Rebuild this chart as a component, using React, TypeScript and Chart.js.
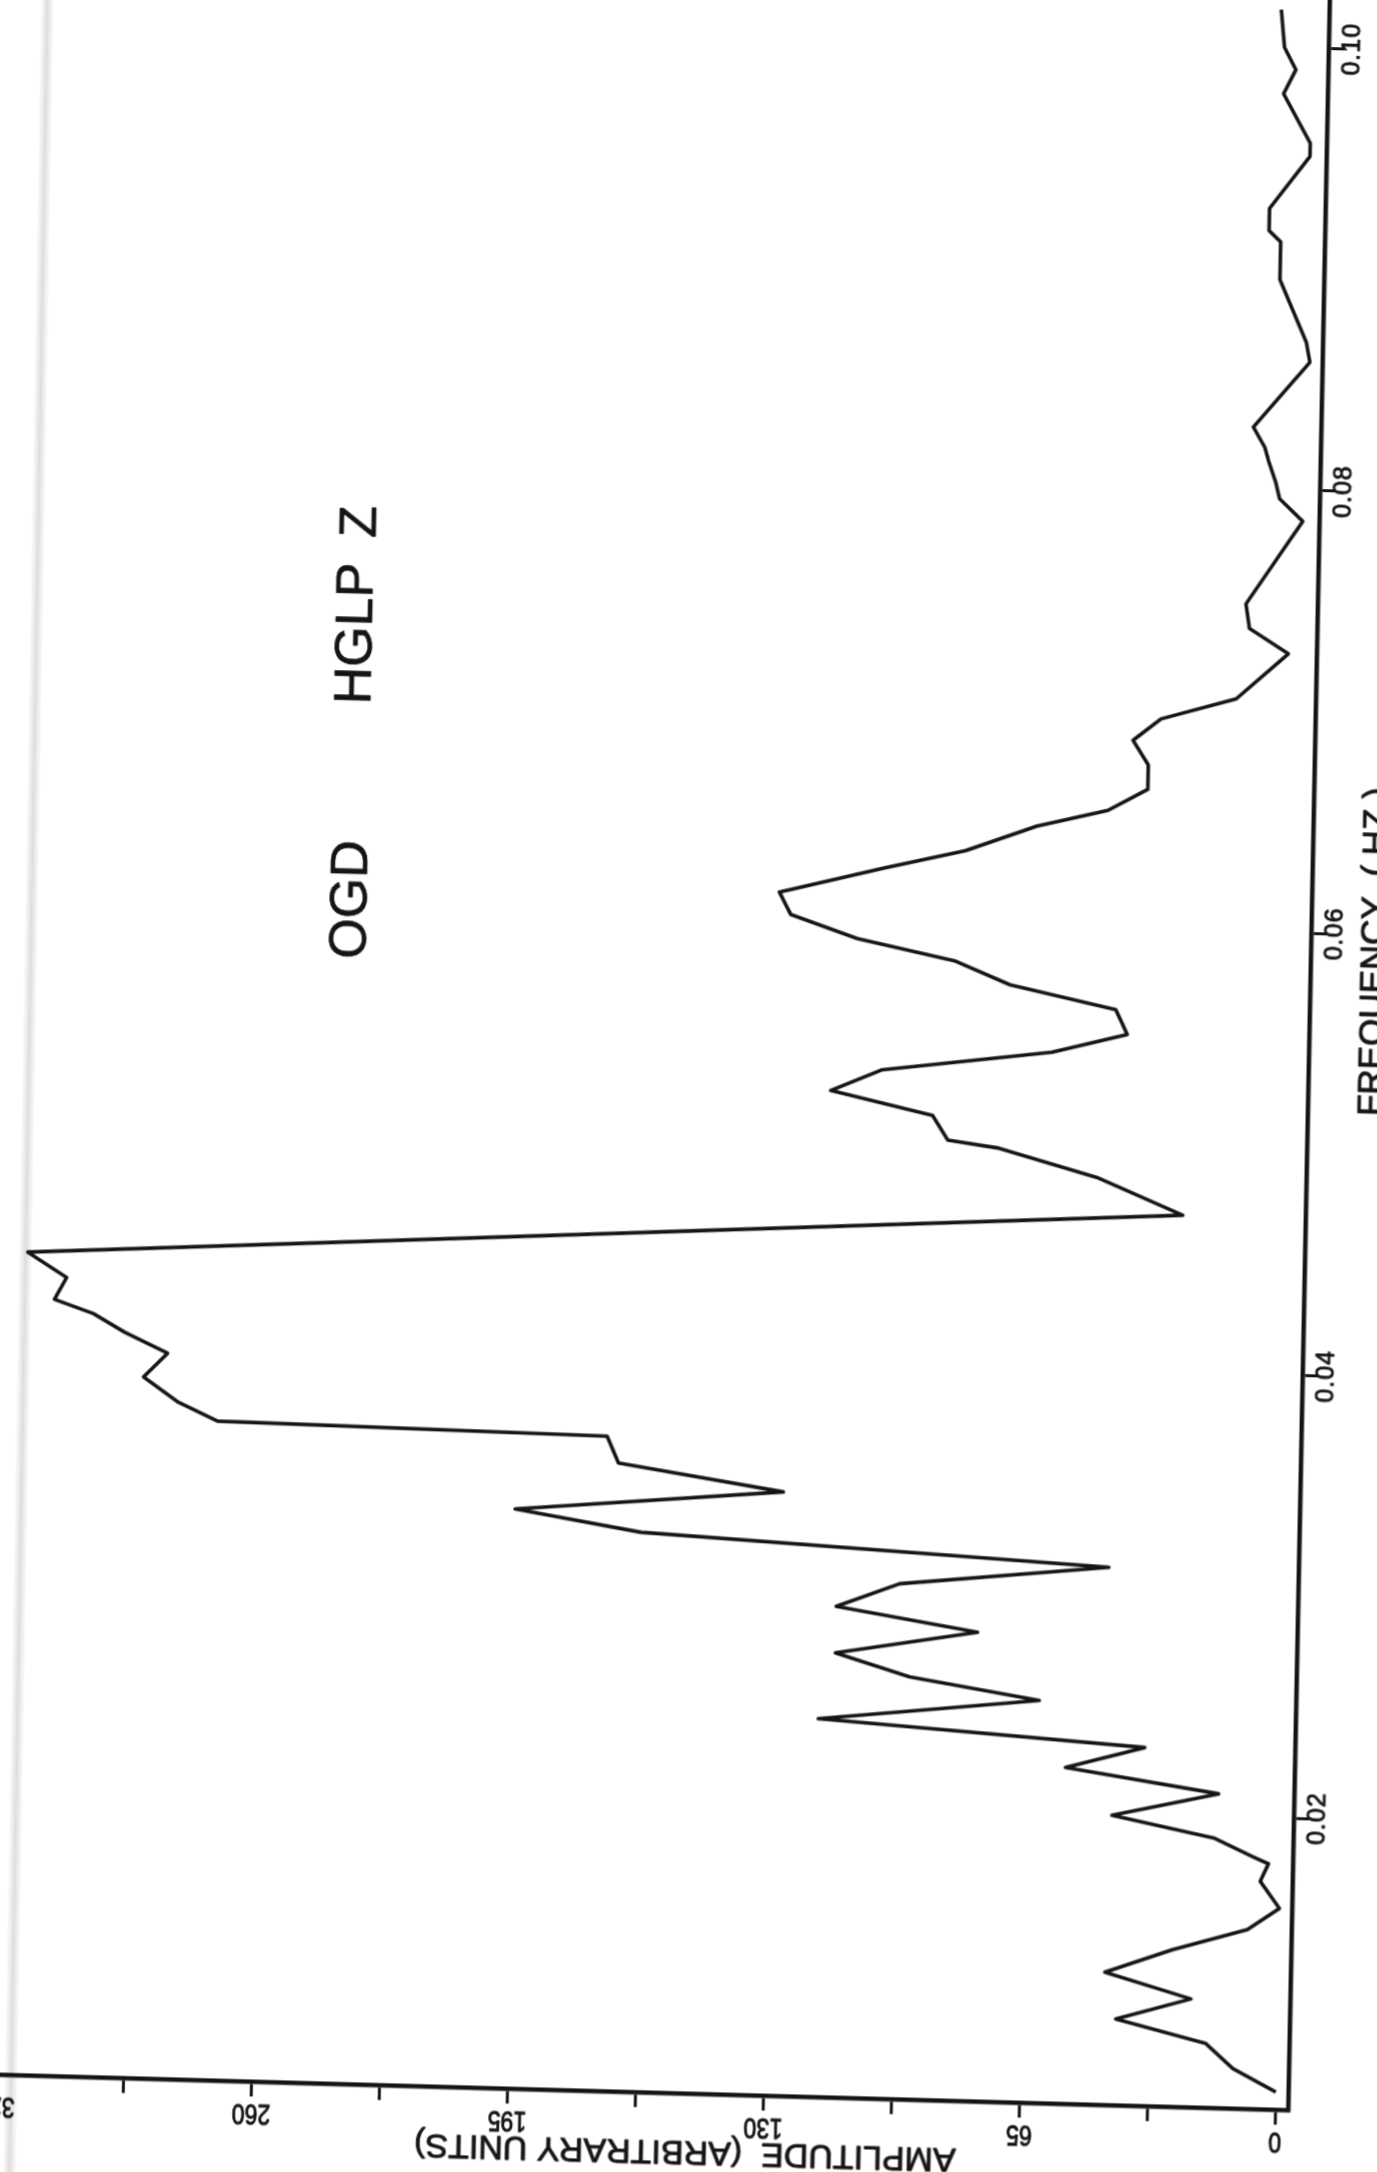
import { useEffect, useRef } from "react";
import { Chart, registerables } from "chart.js";

Chart.register(...registerables);

// Frequency (Hz) of each vertex of the spectrum trace, low to high
const FREQ = [
  0.0076, 0.0086, 0.0097, 0.0107, 0.0117, 0.0128, 0.0139, 0.0149, 0.0159, 0.0171,
  0.0179, 0.0182, 0.019, 0.0199, 0.021, 0.022, 0.023, 0.0239, 0.025, 0.0259,
  0.0269, 0.028, 0.029, 0.0301, 0.0311, 0.0321, 0.033, 0.0341, 0.0352, 0.0364,
  0.0366, 0.0374, 0.0385, 0.0396, 0.0405, 0.0413, 0.0419, 0.0429, 0.044, 0.0471,
  0.0487, 0.0499, 0.0502, 0.0513, 0.0523, 0.0533, 0.0543, 0.0552, 0.0563, 0.0573,
  0.0583, 0.0592, 0.0602, 0.0612, 0.0624, 0.0633, 0.0645, 0.0653, 0.0663, 0.0674,
  0.0685, 0.0695, 0.0705, 0.0726, 0.0737, 0.0748, 0.0786, 0.0796, 0.0803, 0.0813,
  0.0819, 0.0828, 0.0858, 0.0867, 0.0895, 0.0912, 0.0917, 0.0927, 0.0951, 0.0957,
  0.0979, 0.099, 0.1, 0.1017,
];

// Amplitude (arbitrary units) at each vertex
const AMP = [
  0, 11, 18, 41, 22, 44, 27, 8, 0, 5,
  3, 7, 17, 43, 16, 55, 35, 118, 62, 95,
  114, 78, 114, 98, 45, 164, 196, 128, 170, 173,
  272, 282, 291, 285, 296, 304, 314, 311, 321, 28,
  50, 75, 88, 92, 118, 105, 62, 43, 46, 73,
  87, 112, 129, 132, 106, 85, 67, 49, 39, 39,
  43, 36, 17, 4, 14, 15, 1, 7, 8, 10,
  11, 14, 0, 1, 8, 8, 11, 11, 1, 1,
  8, 5, 8, 9,
];

const AMP_TICKS = [0, 32.5, 65, 97.5, 130, 162.5, 195, 227.5, 260, 292.5, 325];
const AMP_LABEL_VALUES = [0, 65, 130, 195, 260, 325];
const AMP_LABELS = ["0", "65", "130", "195", "260", "325"];
const FREQ_TICKS = [0.02, 0.04, 0.06, 0.08, 0.1];
const FREQ_LABELS = ["0.02", "0.04", "0.06", "0.08", "0.10"];
const X_TITLE = "AMPLITUDE  (ARBITRARY UNITS)";
const Y_TITLE = "FREQUENCY  ( HZ )";
const TITLE_WORDS = ["OGD", "HGLP", "Z"];

const W = 1480;
const H = 2260;
const INK = "#141414";
const SANS = '"Liberation Sans", Arial, Helvetica, sans-serif';

const textPlugin = {
  id: "rotatedText",
  afterDraw(chart: any) {
    const { ctx, chartArea, scales } = chart;
    const xs = scales.x;
    const ys = scales.y;
    const R = chartArea.right;
    const B = chartArea.bottom;
    const put = (
      t: string,
      x: number,
      y: number,
      rot: number,
      size: number,
      sx: number,
      stroke: number,
      spacing = "0px"
    ) => {
      ctx.save();
      ctx.translate(x, y);
      ctx.rotate(rot);
      ctx.scale(sx, 1);
      ctx.font = `${size}px ${SANS}`;
      (ctx as any).letterSpacing = spacing;
      ctx.fillStyle = INK;
      ctx.strokeStyle = INK;
      ctx.lineWidth = stroke;
      ctx.lineJoin = "round";
      ctx.textAlign = "center";
      ctx.textBaseline = "middle";
      ctx.fillText(t, 0, 0);
      if (stroke > 0) ctx.strokeText(t, 0, 0);
      ctx.restore();
    };
    AMP_LABEL_VALUES.forEach((v, i) => {
      put(AMP_LABELS[i], xs.getPixelForValue(v), B + 31, Math.PI, 29, 0.8, 1);
    });
    FREQ_TICKS.forEach((f, i) => {
      put(FREQ_LABELS[i], R + 24, ys.getPixelForValue(f), -Math.PI / 2, 25, 1, 0.9, "1px");
    });
    put(X_TITLE, R - 602, B + 57, Math.PI, 34, 1, 0.9);
    put(Y_TITLE, R + 64, B - 1160, -Math.PI / 2, 35, 1, 0.9);
    const dx = [-959, -959, -957];
    const dy = [-1184, -1450, -1562];
    TITLE_WORDS.forEach((t, i) => {
      put(t, R + dx[i], B + dy[i], -Math.PI / 2, 52, 1, 0.7);
    });
  },
};

export default function App() {
  const ref = useRef<HTMLCanvasElement | null>(null);

  useEffect(() => {
    document.documentElement.style.overflow = "hidden";
    document.body.style.overflow = "hidden";
    document.body.style.background = "#ffffff";
    if (!ref.current) return;
    const points = FREQ.map((f, i) => ({ x: AMP[i], y: f }));
    const chart = new Chart(ref.current, {
      type: "scatter",
      data: {
        datasets: [
          {
            data: points,
            showLine: true,
            borderColor: INK,
            borderWidth: 3.6,
            borderJoinStyle: "round",
            pointRadius: 0,
            tension: 0,
            fill: false,
          },
        ],
      },
      options: {
        animation: false,
        responsive: false,
        maintainAspectRatio: false,
        layout: { padding: { left: 44, top: 0, right: 0, bottom: 0 } },
        plugins: { legend: { display: false }, tooltip: { enabled: false } },
        scales: {
          x: {
            type: "linear",
            position: "bottom",
            reverse: true,
            min: -3.2,
            max: 328,
            afterBuildTicks: (s: any) => {
              s.ticks = AMP_TICKS.map((v) => ({ value: v }));
            },
            afterFit: (s: any) => {
              s.height = 110;
            },
            ticks: { display: false },
            grid: { drawOnChartArea: false, drawTicks: true, tickLength: 15, color: INK, lineWidth: 3 },
            border: { display: true, color: INK, width: 4.5 },
          },
          y: {
            type: "linear",
            position: "right",
            min: 0.0068,
            max: 0.104,
            afterBuildTicks: (s: any) => {
              s.ticks = FREQ_TICKS.map((v) => ({ value: v }));
            },
            afterFit: (s: any) => {
              s.width = 132;
            },
            ticks: { display: false },
            grid: { drawOnChartArea: false, drawTicks: true, tickLength: 15, color: INK, lineWidth: 3 },
            border: { display: true, color: INK, width: 4.5 },
          },
        },
      },
      plugins: [textPlugin],
    } as any);
    return () => chart.destroy();
  }, []);

  return (
    <>
      <div
        style={{
          position: "fixed",
          left: 2,
          top: -20,
          width: 14,
          height: 2220,
          transformOrigin: "0 100%",
          transform: "rotate(1deg)",
          background: "linear-gradient(to right, rgba(0,0,0,0), rgba(0,0,0,0.13), rgba(0,0,0,0))",
        }}
      />
      <div
        style={{
          position: "fixed",
          left: -60,
          top: -40,
          width: W,
          height: H,
          transformOrigin: "1348px 2150px",
          transform: "matrix(1, 0.0275, -0.0197, 1, 0, 0)",
          background: "transparent",
        }}
      >
        <canvas ref={ref} width={W} height={H} style={{ width: W, height: H, display: "block" }} />
      </div>
    </>
  );
}
